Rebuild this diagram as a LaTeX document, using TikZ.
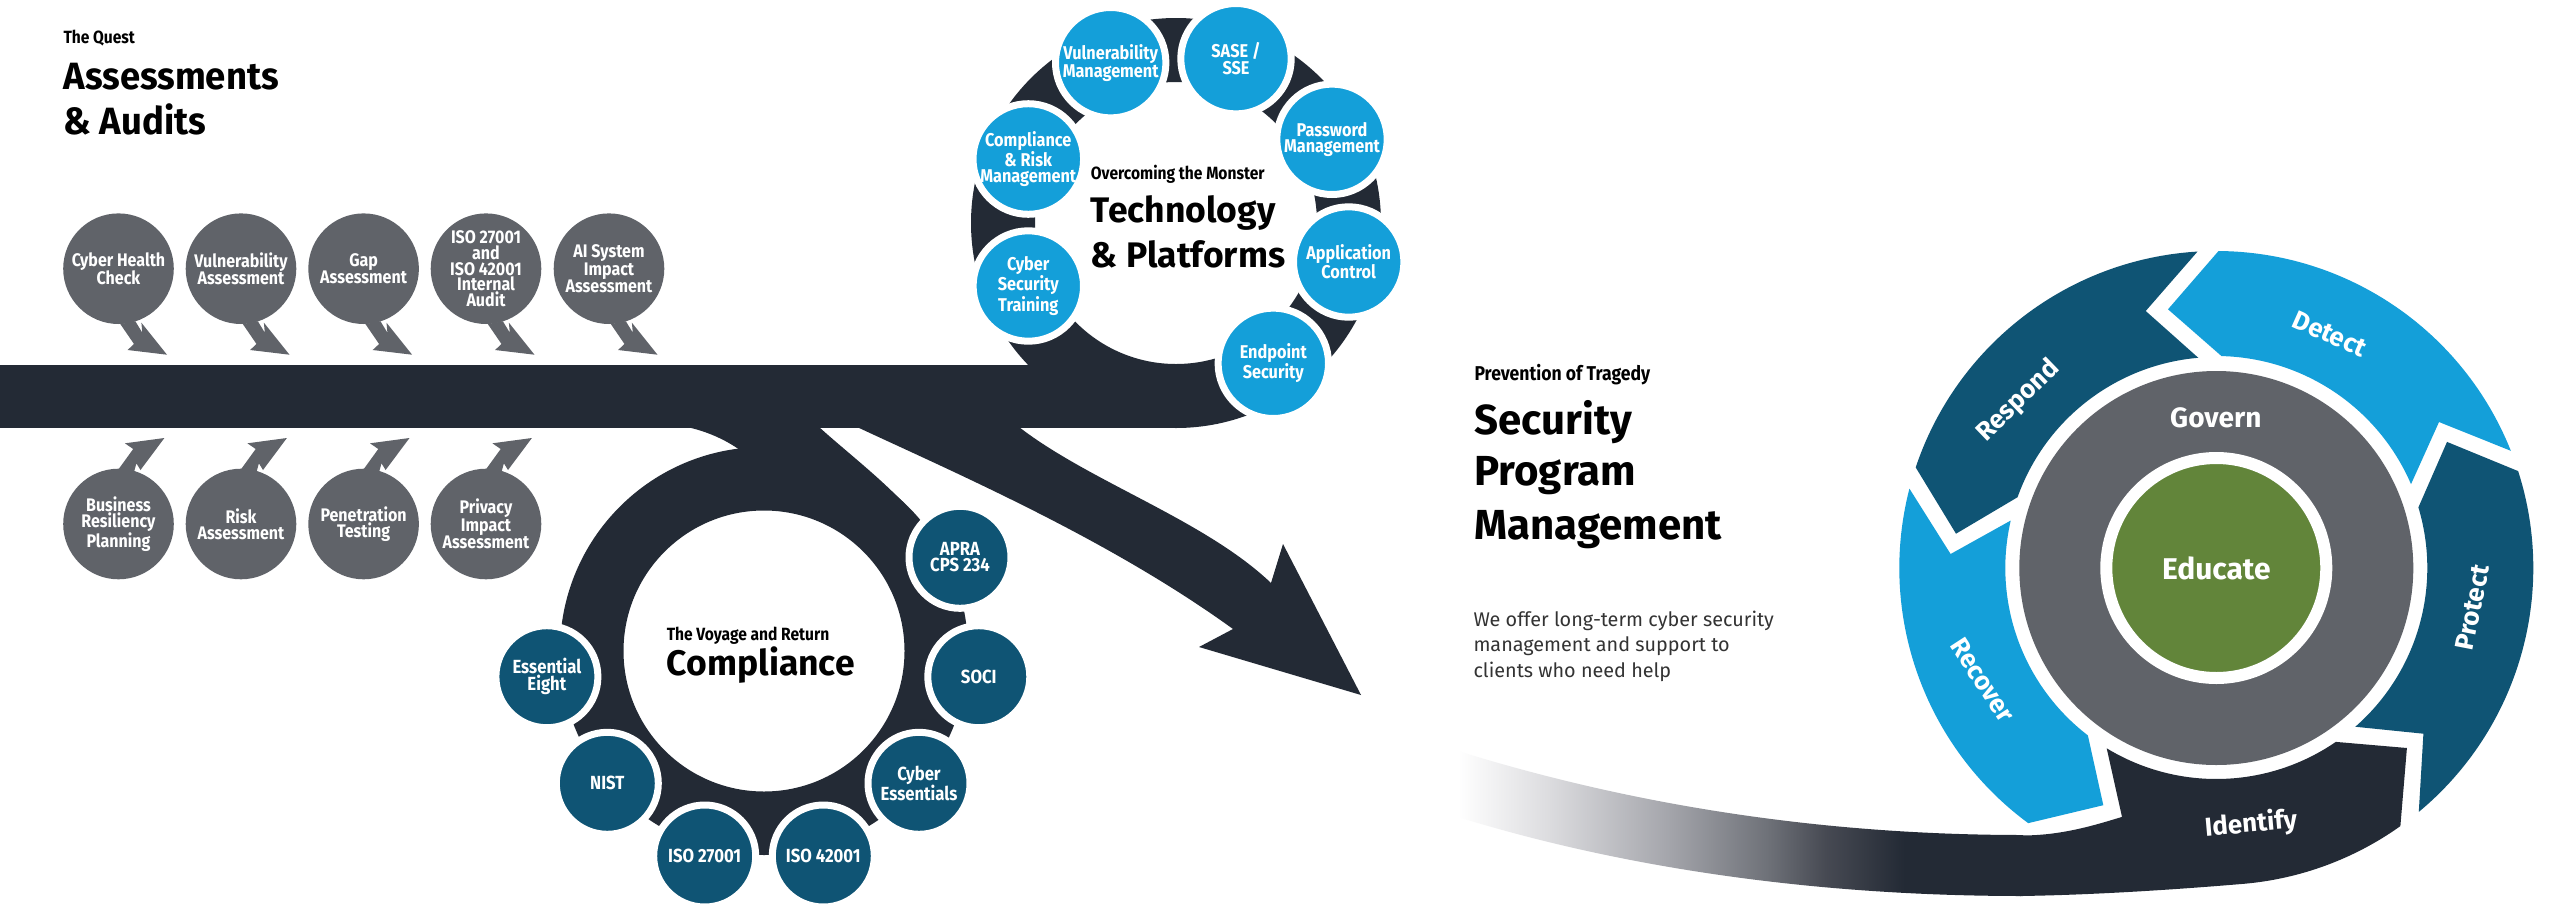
\documentclass[tikz,border=0pt]{standalone}
\usepackage{fontspec}
\usetikzlibrary{calc}
\setmainfont{Fira Sans}
\newfontfamily\cf[FakeStretch=0.88]{Fira Sans}
\newfontfamily\hf[FakeStretch=0.96]{Fira Sans}
\definecolor{inkdark}{HTML}{232A35}
\definecolor{greyc}{HTML}{606369}
\definecolor{tealc}{HTML}{0F5474}
\definecolor{bluec}{HTML}{149FD9}
\definecolor{greenc}{HTML}{62853A}
\definecolor{bodyc}{HTML}{333333}
\definecolor{fa}{HTML}{DCDCDF}
\definecolor{fb}{HTML}{A5A6AC}
\definecolor{fc}{HTML}{6F7279}
\definecolor{fd}{HTML}{474A53}
\pgfdeclarehorizontalshading{fadeband}{100bp}{color(0bp)=(white); color(25bp)=(white); color(33bp)=(fa); color(43.5bp)=(fb); color(52.3bp)=(fc); color(57.5bp)=(fd); color(64.5bp)=(inkdark); color(100bp)=(inkdark)}
\newcommand{\fs}[2]{\fontsize{#1}{#2}\selectfont}
\tikzset{
  bubble/.style={circle,fill=#1,draw=white,line width=7pt,outer sep=0pt,inner sep=0pt,text=white,align=center,font=\cf\bfseries\fs{16}{15.7}},
  greyb/.style={circle,fill=greyc,inner sep=0pt,outer sep=0pt,minimum size=110.6pt,text=white,align=center,font=\cf\bfseries\fs{18.2}{15.7}},
  techb/.style={bubble=bluec,minimum size=110.4pt,font=\cf\bfseries\fs{18.5}{16.3}},
  compb/.style={bubble=tealc,minimum size=102pt,font=\cf\bfseries\fs{19}{15.7}},
  smallhead/.style={anchor=base west,inner sep=0pt,font=\cf\bfseries\fs{17.7}{20}},
  bighead/.style={anchor=base west,inner sep=0pt,font=\bfseries\fs{35.5}{45}},
  bigassess/.style={anchor=base west,inner sep=0pt,font=\hf\bfseries\fs{38}{45}},
  bigsec/.style={anchor=base west,inner sep=0pt,font=\bfseries\fs{42}{52}},
  bodytext/.style={anchor=base west,inner sep=0pt,text=bodyc,font=\fs{19.8}{25}},
  ringlabel/.style={text=white,inner sep=0pt,font=\bfseries\fs{26}{30}}
}
\newcommand{\taildown}[1]{\fill[greyc,shift={(#1.center)}] (1.8,-55.3)--(15.5,-75.3)--(9.1,-81.3)--(48.5,-86)--(22.9,-54)--(23.8,-64)--(16.9,-52.6)--cycle;}
\newcommand{\tailup}[1]{\fill[greyc,shift={(#1.center)}] (0,54.7)--(14.7,75)--(6.4,80.7)--(45.9,86)--(22,54)--(17.9,60.7)--(15.6,52.3)--cycle;}
\begin{document}
\begin{tikzpicture}[x=1pt,y=1pt]
\path[fill=white,use as bounding box] (0,0) rectangle (2560,-911);
% main band
\fill[inkdark] (0,-365) rectangle (1176,-428);
% technology ring
\coordinate (techc) at (1176,-223);
\fill[inkdark,even odd rule] (techc) circle (205) (techc) circle (141);
% compliance ring and stem
\coordinate (compc) at (764,-651);
\fill[inkdark,even odd rule] (compc) circle (204) (compc) circle (140.5);
\fill[inkdark] (687,-427) .. controls (705,-431) and (722,-438) .. (737,-448) -- (780,-480) -- (919,-520) .. controls (890,-485) and (850,-455) .. (819,-427) -- cycle;
% arrow
\fill[inkdark] (857,-427) .. controls (960,-475) and (1110,-540) .. (1233,-629) -- (1199,-647) -- (1361,-695) -- (1283,-544) -- (1271,-583) .. controls (1205,-520) and (1090,-482) .. (1019,-427) -- cycle;
% assessment bubbles
\node[greyb] (a1) at (118.5,-268.7) {Cyber Health\\Check};
\node[greyb] (a2) at (241,-268.7) {Vulnerability\\Assessment};
\node[greyb] (a3) at (363.6,-268.7) {Gap\\Assessment};
\node[greyb] (a4) at (486,-268.7) {ISO 27001\\and\\ISO 42001\\Internal\\Audit};
\node[greyb] (a5) at (609,-268.7) {AI System\\Impact\\Assessment};
\node[greyb] (b1) at (118.5,-524) {Business\\Resiliency\\Planning};
\node[greyb] (b2) at (241,-524) {Risk\\Assessment};
\node[greyb] (b3) at (363.6,-524) {Penetration\\Testing};
\node[greyb] (b4) at (486,-524) {Privacy\\Impact\\Assessment};
\taildown{a1}\taildown{a2}\taildown{a3}\taildown{a4}\taildown{a5}
\tailup{b1}\tailup{b2}\tailup{b3}\tailup{b4}
% technology bubbles
\node[techb] (t1) at (1110.7,-62.7) {Vulnerability\\Management};
\node[techb] (t2) at (1236,-58.7) {SASE /\\SSE};
\node[techb] (t3) at (1332,-139.3) {Password\\Management};
\node[techb] (t4) at (1348.7,-262) {Application\\Control};
\node[techb] (t5) at (1273.3,-363.3) {Endpoint\\Security};
\node[techb] (t6) at (1028.3,-286) {Cyber\\Security\\Training};
\node[techb] (t7) at (1028.3,-159) {Compliance\\\& Risk\\Management};
% compliance bubbles
\node[compb] (c1) at (960,-557.3) {APRA\\CPS 234};
\node[compb] (c2) at (978.8,-676.7) {SOCI};
\node[compb] (c3) at (919,-783.3) {Cyber\\Essentials};
\node[compb] (c4) at (823.3,-856) {ISO 42001};
\node[compb] (c5) at (704.7,-856) {ISO 27001};
\node[compb] (c6) at (607.3,-783.3) {NIST};
\node[compb] (c7) at (546.9,-676.7) {Essential\\Eight};
% headings
\node[smallhead] (h1) at (63.3,-43.3) {The Quest};
\node[bigassess] (h1a) at (63.3,-89.3) {Assessments};
\node[bigassess] (h1b) at (63.3,-134.3) {\& Audits};
\node[smallhead] (h2) at (1090.7,-179.3) {Overcoming the Monster};
\node[bighead] (h2a) at (1090.7,-222.7) {Technology};
\node[bighead] (h2b) at (1090.7,-267.3) {\& Platforms};
\node[smallhead] (h3) at (666.6,-640.7) {The Voyage and Return};
\node[bighead] (h3a) at (666.6,-675.7) {Compliance};
\node[smallhead,font=\cf\bfseries\fs{20}{22}] (h4) at (1474.3,-380.7) {Prevention of Tragedy};
\node[bigsec] (h4a) at (1474.3,-434) {Security};
\node[bigsec] (h4b) at (1474.3,-485.7) {Program};
\node[bigsec] (h4c) at (1474.3,-539) {Management};
\node[bodytext] (b4a) at (1473.3,-626.7) {We offer long-term cyber security};
\node[bodytext] (b4b) at (1473.3,-651.7) {management and support to};
\node[bodytext] (b4c) at (1473.3,-677.3) {clients who need help};
% fading tail
\path[shading=fadeband] (1458,-751) .. controls (1600,-795) and (1790,-835) .. (2023,-835) -- (2023,-896) .. controls (1790,-896) and (1600,-861) .. (1458,-817) -- cycle;
% framework
\begin{scope}[shift={(2216.3,-568)}]
\fill[bluec] (89.6:317) arc[start angle=89.6,end angle=21.7,radius=317] -- (222.7,146) -- (23.3:212) arc[start angle=23.3,end angle=88.6,radius=212] -- (-48.3,258.7) -- cycle;
\fill[tealc] (17.8:317) arc[start angle=17.8,end angle=-50.3,radius=317] -- (207.1,-165.7) -- (-48.8:211) arc[start angle=-48.8,end angle=16.7,radius=211] -- (230.7,126.1) -- cycle;
\fill[inkdark] (-121.3:211) arc[start angle=-121.3,end angle=-55.5,radius=211] -- (190.6,-180) -- (-54.5:317) arc[start angle=-54.5,end angle=-85,radius=317] .. controls (-46,-322) and (-126,-327) .. (-196.3,-328) -- (-196.3,-267.4) .. controls (-156,-268) and (-121,-257) .. (-94.3,-248.9) -- cycle;
\fill[bluec] (165.5:317) arc[start angle=165.5,end angle=233.6,radius=317] -- (-113,-237.2) -- (232.5:211) arc[start angle=232.5,end angle=167,radius=211] -- (-265.7,14) -- cycle;
\fill[tealc] (93.4:317) arc[start angle=93.4,end angle=161.5,radius=317] -- (-260.3,34.3) -- (160.4:211) arc[start angle=160.4,end angle=94.9,radius=211] -- (-70.6,257) -- cycle;
\end{scope}
\node[circle,fill=greyc,inner sep=0pt,outer sep=0pt,minimum size=394pt] (gov) at (2216.3,-568) {};
\node[bubble=greenc,line width=12pt,minimum size=220pt,font=\bfseries\fs{30}{32}] (edu) at (2216.3,-568) {Educate};
\node[ringlabel,font=\bfseries\fs{28}{30}] (lgov) at (2215.8,-417.4) {Govern};
\node[ringlabel,rotate=-24] (ldet) at (2329.6,-334) {Detect};
\node[ringlabel,rotate=79] (lpro) at (2472.5,-607.6) {Protect};
\node[ringlabel,rotate=5] (lide) at (2251,-824.4) {Identify};
\node[ringlabel,rotate=-57] (lrec) at (1982.8,-680) {Recover};
\node[ringlabel,rotate=44] (lres) at (2018.5,-401) {Respond};
\end{tikzpicture}
\end{document}
